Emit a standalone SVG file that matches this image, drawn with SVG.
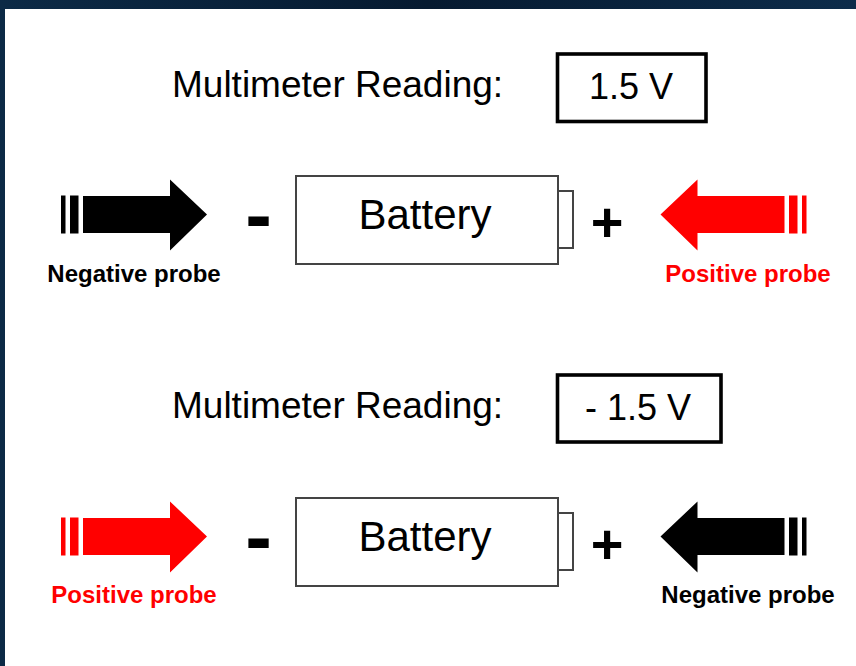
<svg xmlns="http://www.w3.org/2000/svg" xmlns:xlink="http://www.w3.org/1999/xlink" width="856" height="666" viewBox="0 0 856 666">
<style>
.t{font-family:"Liberation Sans",Arial,sans-serif;fill:#000}
.read{font-size:37px}
.val{font-size:36px}
.bat{font-size:42px}
.lab{font-size:24px;font-weight:bold}
.sign{font-weight:bold}
.box{fill:#fff;stroke:#000;stroke-width:3.6}
.cell{fill:#fff;stroke:#444;stroke-width:2}
.red{fill:#ff0000}
.blk{fill:#000}
</style>
<defs>
<linearGradient id="bg" x1="0" y1="0" x2="1" y2="0">
<stop offset="0" stop-color="#0c2a46"/>
<stop offset="0.5" stop-color="#061a30"/>
<stop offset="1" stop-color="#0d2c4a"/>
</linearGradient>
<g id="probe">
<rect x="0" y="-19" width="4.5" height="38"/>
<rect x="9" y="-19" width="8.5" height="38"/>
<polygon points="22,-18.5 109,-18.5 109,-35 146,0 109,36 109,18.5 22,18.5"/>
</g>
</defs>
<rect x="0" y="0" width="856" height="666" fill="url(#bg)"/>
<rect x="5" y="9" width="851" height="657" fill="#fff"/>

<g id="connectors"></g>

<!-- top row -->
<g id="reading-label-1"><text class="t read" x="172" y="97">Multimeter Reading:</text></g>
<g id="reading-box-1"><rect class="box" x="557.5" y="54" width="148.5" height="67.5"/><text class="t val" x="631" y="99" text-anchor="middle">1.5 V</text></g>
<g id="probe-neg-1"><use xlink:href="#probe" class="blk" transform="translate(61,214.5)"/><text class="t lab" x="134" y="282" text-anchor="middle">Negative probe</text></g>
<g id="minus-1"><text class="t sign" x="258.5" y="242" font-size="80" text-anchor="middle">-</text></g>
<g id="battery-1"><rect class="cell" x="296" y="176" width="262" height="88"/><rect class="cell" x="558" y="191" width="15" height="57"/><text class="t bat" x="425" y="228.5" text-anchor="middle">Battery</text></g>
<g id="plus-1"><text class="t sign" x="607" y="240.5" font-size="56" text-anchor="middle">+</text></g>
<g id="probe-pos-1"><use xlink:href="#probe" class="red" transform="translate(806.5,214.5) scale(-1,1)"/><text class="t lab" x="748" y="282" text-anchor="middle" style="fill:#ff0000">Positive probe</text></g>

<!-- bottom row -->
<g id="reading-label-2"><text class="t read" x="172" y="418">Multimeter Reading:</text></g>
<g id="reading-box-2"><rect class="box" x="557.5" y="375" width="163.5" height="67"/><text class="t val" x="638" y="420" text-anchor="middle">- 1.5 V</text></g>
<g id="probe-pos-2"><use xlink:href="#probe" class="red" transform="translate(61,536.5)"/><text class="t lab" x="134" y="603" text-anchor="middle" style="fill:#ff0000">Positive probe</text></g>
<g id="minus-2"><text class="t sign" x="258.5" y="564" font-size="80" text-anchor="middle">-</text></g>
<g id="battery-2"><rect class="cell" x="296" y="498" width="262" height="88"/><rect class="cell" x="558" y="513" width="15" height="57"/><text class="t bat" x="425" y="550.5" text-anchor="middle">Battery</text></g>
<g id="plus-2"><text class="t sign" x="607" y="562.5" font-size="56" text-anchor="middle">+</text></g>
<g id="probe-neg-2"><use xlink:href="#probe" class="blk" transform="translate(806.5,536.5) scale(-1,1)"/><text class="t lab" x="748" y="603" text-anchor="middle">Negative probe</text></g>
</svg>
